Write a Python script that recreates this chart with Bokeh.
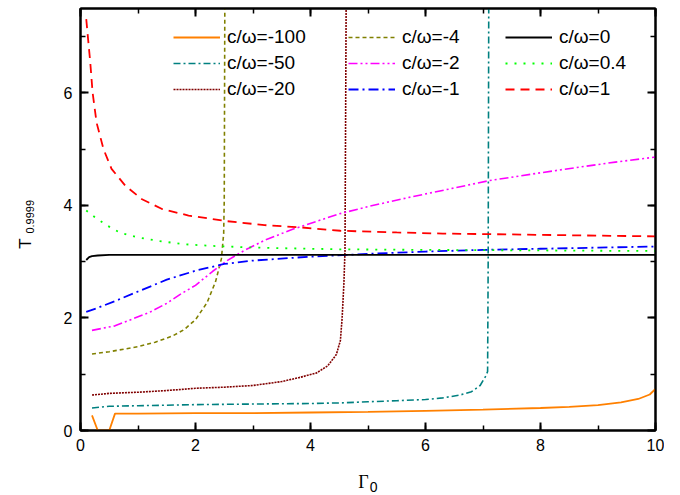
import math
from bokeh.plotting import figure
from bokeh.models import (Range1d, LinearAxis, SingleIntervalTicker, Legend, LegendItem,
                          Label, CustomJSTickFormatter)
from bokeh.embed import file_html
from bokeh.resources import INLINE

# ---- data ----
series_labels = ["c/ω=-100", "c/ω=-50", "c/ω=-20", "c/ω=-4", "c/ω=-2", "c/ω=-1",
                 "c/ω=0", "c/ω=0.4", "c/ω=1"]

x_m100 = [0.2, 0.3, 0.5, 0.6, 1, 2, 3, 4, 5, 6, 7, 8, 8.5, 9, 9.4, 9.7, 9.9, 10]
y_m100 = [0.27, 0, 0, 0.30, 0.30, 0.31, 0.31, 0.32, 0.33, 0.35, 0.37, 0.40, 0.42, 0.45, 0.50, 0.56, 0.64, 0.74]

x_m50 = [0.2, 0.5, 1, 2, 3, 4, 4.5, 5, 5.5, 6, 6.3, 6.6, 6.8, 6.95, 7.05, 7.08, 7.09, 7.1]
y_m50 = [0.40, 0.43, 0.44, 0.46, 0.47, 0.48, 0.49, 0.51, 0.53, 0.55, 0.58, 0.63, 0.69, 0.80, 0.97, 1.05, 3.0, 7.6]

x_m20 = [0.2, 0.5, 1, 1.5, 2, 2.5, 3, 3.5, 3.8, 4.1, 4.3, 4.45, 4.52, 4.55, 4.58, 4.6, 4.62]
y_m20 = [0.63, 0.66, 0.68, 0.71, 0.75, 0.77, 0.80, 0.87, 0.94, 1.02, 1.15, 1.35, 1.6, 2.0, 2.6, 3.2, 7.6]

x_m4 = [0.2, 0.5, 1, 1.3, 1.6, 1.8, 2.0, 2.2, 2.35, 2.45, 2.49, 2.5, 2.51]
y_m4 = [1.36, 1.40, 1.49, 1.57, 1.68, 1.79, 1.97, 2.27, 2.65, 3.05, 3.5, 4.1, 7.6]

x_m2 = [0.2, 0.6, 0.9, 1.2, 1.5, 1.75, 2.0, 2.3, 2.55, 2.85, 3.2, 3.7, 4.5, 5.0, 5.7, 6.5, 7.1, 8.0, 8.6, 9.3, 10]
y_m2 = [1.78, 1.86, 1.98, 2.10, 2.26, 2.43, 2.58, 2.83, 3.02, 3.20, 3.38, 3.58, 3.85, 3.98, 4.14, 4.31, 4.44, 4.58, 4.67, 4.77, 4.86]

x_m1 = [0.1, 0.3, 0.6, 1.0, 1.5, 2.0, 2.5, 3.0, 4.0, 5.0, 6.0, 7.0, 8.0, 9.0, 10]
y_m1 = [2.11, 2.18, 2.30, 2.47, 2.68, 2.84, 2.96, 3.02, 3.09, 3.14, 3.18, 3.21, 3.23, 3.25, 3.27]

x_0 = [0.1, 0.15, 0.2, 0.3, 0.5, 1, 2, 4, 6, 8, 10]
y_0 = [3.03, 3.08, 3.10, 3.11, 3.12, 3.12, 3.12, 3.12, 3.12, 3.12, 3.12]

x_04 = [0.1, 0.25, 0.45, 0.7, 1.0, 1.35, 1.8, 2.3, 2.8, 3.5, 4.5, 6, 8, 10]
y_04 = [3.91, 3.79, 3.65, 3.51, 3.43, 3.37, 3.31, 3.28, 3.26, 3.24, 3.22, 3.21, 3.20, 3.19]

x_1 = [0.1, 0.17, 0.21, 0.28, 0.4, 0.54, 0.78, 1.07, 1.41, 1.88, 2.55, 3.2, 3.83, 4.52, 5.5, 6.3, 7.07, 8.5, 10]
y_1 = [7.31, 6.54, 6.01, 5.47, 5.00, 4.65, 4.35, 4.11, 3.94, 3.82, 3.72, 3.65, 3.61, 3.55, 3.52, 3.50, 3.49, 3.47, 3.45]

xs_all = [x_m100, x_m50, x_m20, x_m4, x_m2, x_m1, x_0, x_04, x_1]
ys_all = [y_m100, y_m50, y_m20, y_m4, y_m2, y_m1, y_0, y_04, y_1]

colors = ["#FF8000", "#008080", "#800000", "#808000", "#FF00FF", "#0000FF",
          "#000000", "#00FF00", "#FF0000"]
dashes = ["solid", "7 3 2 3", "2 1", "4 3", "9 3 2 3 2 3", "10 4 2 4",
          "solid", "2 7", "9 6"]
widths = [1.8, 1.6, 1.6, 1.6, 1.6, 1.8, 1.8, 1.8, 1.8]

FONT = "Liberation Sans"

p = figure(width=664, height=493, output_backend="svg", toolbar_location=None,
           x_range=Range1d(0, 10), y_range=Range1d(0, 7.5),
           min_border_left=80, min_border_right=9, min_border_top=8, min_border_bottom=63)
p.xgrid.visible = False
p.ygrid.visible = False
p.outline_line_color = "black"
p.outline_line_width = 2
p.background_fill_color = "white"
p.border_fill_color = "white"

def style_axis(ax, show_labels):
    ax.ticker = SingleIntervalTicker(interval=2, num_minor_ticks=2)
    ax.major_tick_in = 8
    ax.major_tick_out = 0
    ax.minor_tick_in = 5
    ax.minor_tick_out = 0
    ax.major_tick_line_width = 2
    ax.minor_tick_line_width = 1.5
    ax.major_tick_line_color = "black"
    ax.minor_tick_line_color = "black"
    ax.axis_line_color = "black"
    ax.axis_line_width = 2
    if show_labels:
        ax.major_label_text_font = FONT
        ax.major_label_text_font_size = "16px"
        ax.major_label_text_color = "black"
        ax.major_label_standoff = 8
    else:
        ax.formatter = CustomJSTickFormatter(code="return ''")
        ax.major_label_text_font_size = "1px"
        ax.major_label_standoff = 0

style_axis(p.xaxis[0], True)
style_axis(p.yaxis[0], True)
top_ax = LinearAxis()
right_ax = LinearAxis()
style_axis(top_ax, False)
style_axis(right_ax, False)
p.add_layout(top_ax, "above")
p.add_layout(right_ax, "right")

renderers = []
for xs, ys, c, d, w in zip(xs_all, ys_all, colors, dashes, widths):
    r = p.line(xs, ys, line_color=c, line_dash=d, line_width=w)
    renderers.append(r)

leg_x = [93, 268, 425]
for k in range(3):
    items = [LegendItem(label=series_labels[3 * k + j], renderers=[renderers[3 * k + j]])
             for j in range(3)]
    leg = Legend(items=items, location=(leg_x[k], 328), orientation="vertical",
                 padding=0, margin=0, spacing=0, glyph_width=47, glyph_height=26,
                 label_height=26, label_standoff=7,
                 label_text_font=FONT, label_text_font_size="19px",
                 label_text_color="black",
                 border_line_color=None, background_fill_alpha=0)
    p.add_layout(leg, "center")

# axis titles (side panels)
p.add_layout(Label(x=4.83, y=-8, x_units="data", y_units="screen", text="Γ",
                   text_font="Liberation Serif", text_font_size="18px",
                   text_color="black", text_baseline="alphabetic", text_align="left"), "below")
p.add_layout(Label(x=5.03, y=-3, x_units="data", y_units="screen", text="0",
                   text_font=FONT, text_font_size="14px",
                   text_color="black", text_baseline="alphabetic", text_align="left"), "below")
p.add_layout(Label(x=-16, y=3.23, x_units="screen", y_units="data", text="T",
                   angle=math.pi / 2, text_font=FONT, text_font_size="17px",
                   text_color="black", text_baseline="alphabetic", text_align="left"), "left")
p.add_layout(Label(x=-4, y=3.50, x_units="screen", y_units="data", text="0.9999",
                   angle=math.pi / 2, text_font=FONT, text_font_size="11px",
                   text_color="black", text_baseline="alphabetic", text_align="left"), "left")

open("out.html", "w").write(file_html(p, INLINE))
